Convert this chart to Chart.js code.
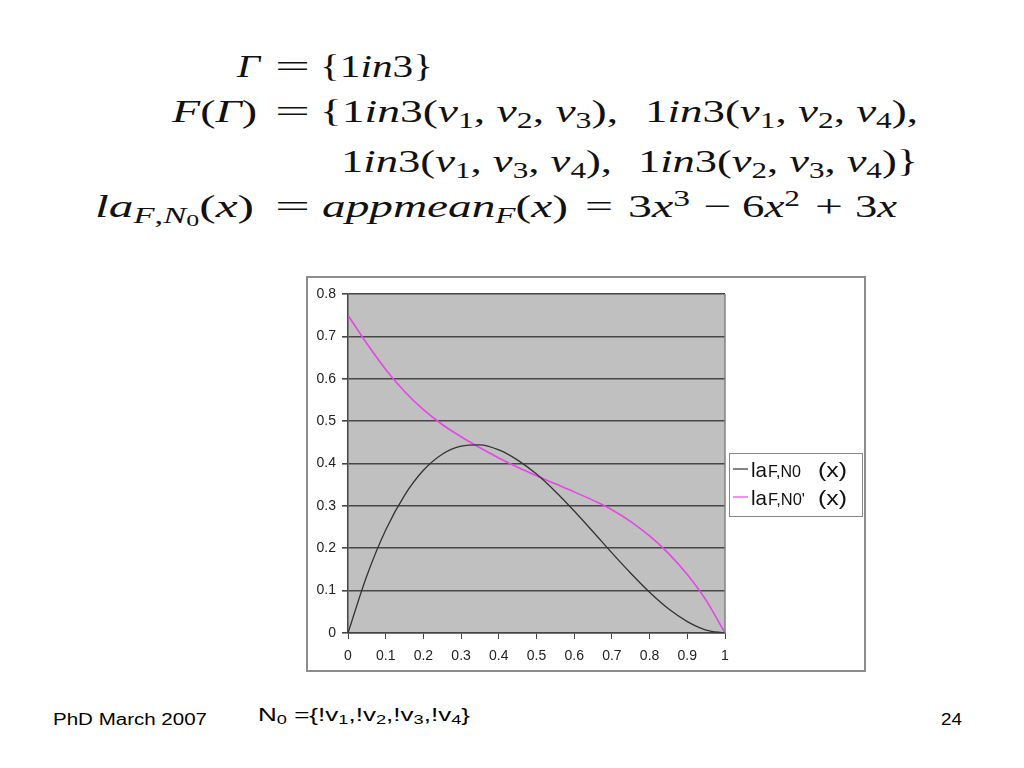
<!DOCTYPE html>
<html>
<head>
<meta charset="utf-8">
<script src="https://cdn.jsdelivr.net/npm/chart.js@4.4.0/dist/chart.umd.min.js"></script>
<style>
  body { margin: 0; width: 1024px; height: 768px; background: #fff; position: relative; overflow: hidden; }
  .fit { position: absolute; white-space: nowrap; color: #000; line-height: 1; transform-origin: 0 0; }
  .m { font-family: "Liberation Serif", "DejaVu Serif", serif; font-size: 32px; color: #111; }
  .m sub, .m sup { font-size: 0.7em; line-height: 0; }
  .m sub { vertical-align: -0.25em; }
  .m sup { vertical-align: 0.5em; }
  .m sub sub { font-size: 0.75em; vertical-align: -0.15em; }
  .ft { font-family: "Liberation Sans", Arial, sans-serif; }
  .ft sub { font-size: 0.7em; line-height: 0; vertical-align: -0.25em; }
  #box { position: absolute; left: 306px; top: 276px; width: 556px; height: 392px; border: 2px solid #8c8c8c; }
  #wrap { position: absolute; left: 308px; top: 278px; width: 555px; height: 391px; }
</style>
</head>
<body>
<!-- left / right / baseline of each text piece in data-* -->
<div class="fit m" data-l="237" data-r="260" data-b="77"><i>Γ</i></div>
<div class="fit m" data-l="275" data-r="310" data-b="77">=</div>
<div class="fit m" data-l="320" data-r="433" data-b="77">{1<i>in</i>3}</div>

<div class="fit m" data-l="172" data-r="257" data-b="122"><i>F</i>(<i>Γ</i>)</div>
<div class="fit m" data-l="275" data-r="310" data-b="122">=</div>
<div class="fit m" data-l="320" data-r="618" data-b="122">{1<i>in</i>3(<i>v</i><sub>1</sub>, <i>v</i><sub>2</sub>, <i>v</i><sub>3</sub>),</div>
<div class="fit m" data-l="645" data-r="918" data-b="122">1<i>in</i>3(<i>v</i><sub>1</sub>, <i>v</i><sub>2</sub>, <i>v</i><sub>4</sub>),</div>

<div class="fit m" data-l="341" data-r="612" data-b="172">1<i>in</i>3(<i>v</i><sub>1</sub>, <i>v</i><sub>3</sub>, <i>v</i><sub>4</sub>),</div>
<div class="fit m" data-l="638" data-r="918" data-b="172">1<i>in</i>3(<i>v</i><sub>2</sub>, <i>v</i><sub>3</sub>, <i>v</i><sub>4</sub>)}</div>

<div class="fit m" data-l="95" data-r="254" data-b="217"><i>la</i><sub><i>F</i>,<i>N</i><sub>0</sub></sub>(<i>x</i>)</div>
<div class="fit m" data-l="275" data-r="310" data-b="217">=</div>
<div class="fit m" data-l="322" data-r="568" data-b="217"><i>appmean</i><sub><i>F</i></sub>(<i>x</i>)</div>
<div class="fit m" data-l="585" data-r="613" data-b="217">=</div>
<div class="fit m" data-l="628" data-r="690" data-b="217">3<i>x</i><sup>3</sup></div>
<div class="fit m" data-l="703" data-r="731" data-b="217">−</div>
<div class="fit m" data-l="742" data-r="800" data-b="217">6<i>x</i><sup>2</sup></div>
<div class="fit m" data-l="815" data-r="843" data-b="217">+</div>
<div class="fit m" data-l="855" data-r="897" data-b="217">3<i>x</i></div>

<div id="box"></div>
<div id="wrap"><canvas id="chart" width="555" height="391"></canvas></div>

<div class="fit ft" style="font-size:16px;" data-l="53" data-r="207" data-b="725">PhD March 2007</div>
<div class="fit ft" style="font-size:19px;" data-l="258" data-r="470" data-b="721">N<sub>0</sub> ={!v<sub>1</sub>,!v<sub>2</sub>,!v<sub>3</sub>,!v<sub>4</sub>}</div>
<div class="fit ft" style="font-size:16px;" data-l="941" data-r="962" data-b="725">24</div>

<script>
// x positions along [0,1]
const xs = [0, 0.05, 0.1, 0.15, 0.2, 0.25, 0.3, 0.35, 0.4, 0.45, 0.5, 0.55, 0.6, 0.65, 0.7, 0.75, 0.8, 0.85, 0.9, 0.95, 1];
// laF,N0 (x)  (black)
const laN0 = [0, 0.135, 0.243, 0.325, 0.384, 0.422, 0.441, 0.444, 0.432, 0.408, 0.375, 0.334, 0.288, 0.239, 0.189, 0.141, 0.096, 0.057, 0.027, 0.007, 0];
// laF,N0' (x)  (magenta)
const laN0p = [0.75, 0.683, 0.622, 0.57, 0.527, 0.492, 0.463, 0.437, 0.413, 0.391, 0.371, 0.352, 0.333, 0.313, 0.291, 0.263, 0.229, 0.188, 0.138, 0.077, 0];
const legendLabels = [["la", "F,N0", "(x)"], ["la", "F,N0'", "(x)"]];
const colors = ["#333333", "#e448e4"];

// stretch each text piece to its box and put it on its baseline
document.querySelectorAll(".fit").forEach((el) => {
  const probe = document.createElement("span");
  probe.style.cssText = "display:inline-block;width:0;height:0;vertical-align:baseline";
  el.appendChild(probe);
  el.style.left = "0px";
  el.style.top = "0px";
  const w = el.getBoundingClientRect().width;
  const base = probe.getBoundingClientRect().top - el.getBoundingClientRect().top;
  const l = +el.dataset.l, r = +el.dataset.r, b = +el.dataset.b;
  el.style.left = l + "px";
  el.style.top = (b - base) + "px";
  el.style.transform = "scaleX(" + ((r - l) / w).toFixed(4) + ")";
});

const toPts = (ys) => xs.map((x, i) => ({ x: x, y: ys[i] }));

function drawPart(ctx, text, size, x, y, width) {
  ctx.font = size + "px 'Liberation Sans', Arial, sans-serif";
  const w = ctx.measureText(text).width;
  ctx.save();
  ctx.translate(x, y);
  ctx.scale(width / w, 1);
  ctx.fillText(text, 0, 0);
  ctx.restore();
}

const plotBg = {
  id: "plotBg",
  beforeDraw(chart) {
    const { ctx, chartArea: a } = chart;
    ctx.save();
    ctx.fillStyle = "#c0c0c0";
    ctx.fillRect(a.left, a.top, a.right - a.left, a.bottom - a.top);
    ctx.restore();
  },
  afterDraw(chart) {
    const { ctx, chartArea: a } = chart;
    ctx.save();
    // right edge of plot
    ctx.strokeStyle = "#808080";
    ctx.lineWidth = 1.5;
    ctx.beginPath();
    ctx.moveTo(a.right, a.top);
    ctx.lineTo(a.right, a.bottom);
    ctx.stroke();

    // legend
    const lx = 421, ly = 175, lw = 133, lh = 63;
    ctx.fillStyle = "#fff";
    ctx.fillRect(lx, ly, lw, lh);
    ctx.strokeStyle = "#888";
    ctx.lineWidth = 1;
    ctx.strokeRect(lx + 0.5, ly + 0.5, lw, lh);
    legendLabels.forEach((parts, i) => {
      const y = ly + 24 + i * 28;
      ctx.strokeStyle = colors[i];
      ctx.lineWidth = 1.2;
      ctx.beginPath();
      ctx.moveTo(lx + 4, y - 8);
      ctx.lineTo(lx + 19, y - 8);
      ctx.stroke();
      ctx.fillStyle = "#111";
      drawPart(ctx, parts[0], 21, lx + 22, y, 16);
      drawPart(ctx, parts[1], 16, lx + 39, y, i === 0 ? 33 : 37);
      drawPart(ctx, parts[2], 21, lx + 89, y, 29);
    });
    ctx.restore();
  }
};

const tickFmt = (v) => String(Math.round(v * 10) / 10);

new Chart(document.getElementById("chart"), {
  type: "line",
  data: {
    datasets: [
      { label: "laF,N0 (x)", data: toPts(laN0), borderColor: colors[0], borderWidth: 1.3, pointRadius: 0, cubicInterpolationMode: "monotone" },
      { label: "laF,N0' (x)", data: toPts(laN0p), borderColor: colors[1], borderWidth: 1.6, pointRadius: 0, cubicInterpolationMode: "monotone" }
    ]
  },
  options: {
    responsive: false,
    animation: false,
    layout: { padding: { top: 16, right: 138, left: 0, bottom: 0 } },
    plugins: { legend: { display: false }, tooltip: { enabled: false } },
    scales: {
      x: {
        type: "linear",
        min: 0,
        max: 1,
        ticks: { stepSize: 0.1, color: "#222", font: { family: "Liberation Sans", size: 14 }, padding: 9, maxRotation: 0, callback: tickFmt },
        grid: { drawOnChartArea: false, drawTicks: true, tickLength: 6, color: "#444" },
        border: { color: "#444", width: 1.5 },
        afterFit(scale) { scale.height = 36; }
      },
      y: {
        min: 0,
        max: 0.8,
        ticks: { stepSize: 0.1, color: "#222", font: { family: "Liberation Sans", size: 14 }, padding: 6, callback: tickFmt },
        grid: { color: "#474747", lineWidth: 1.6, tickLength: 6 },
        border: { color: "#444", width: 1.5 },
        afterFit(scale) { scale.width = 40; }
      }
    }
  },
  plugins: [plotBg]
});
</script>
</body>
</html>
